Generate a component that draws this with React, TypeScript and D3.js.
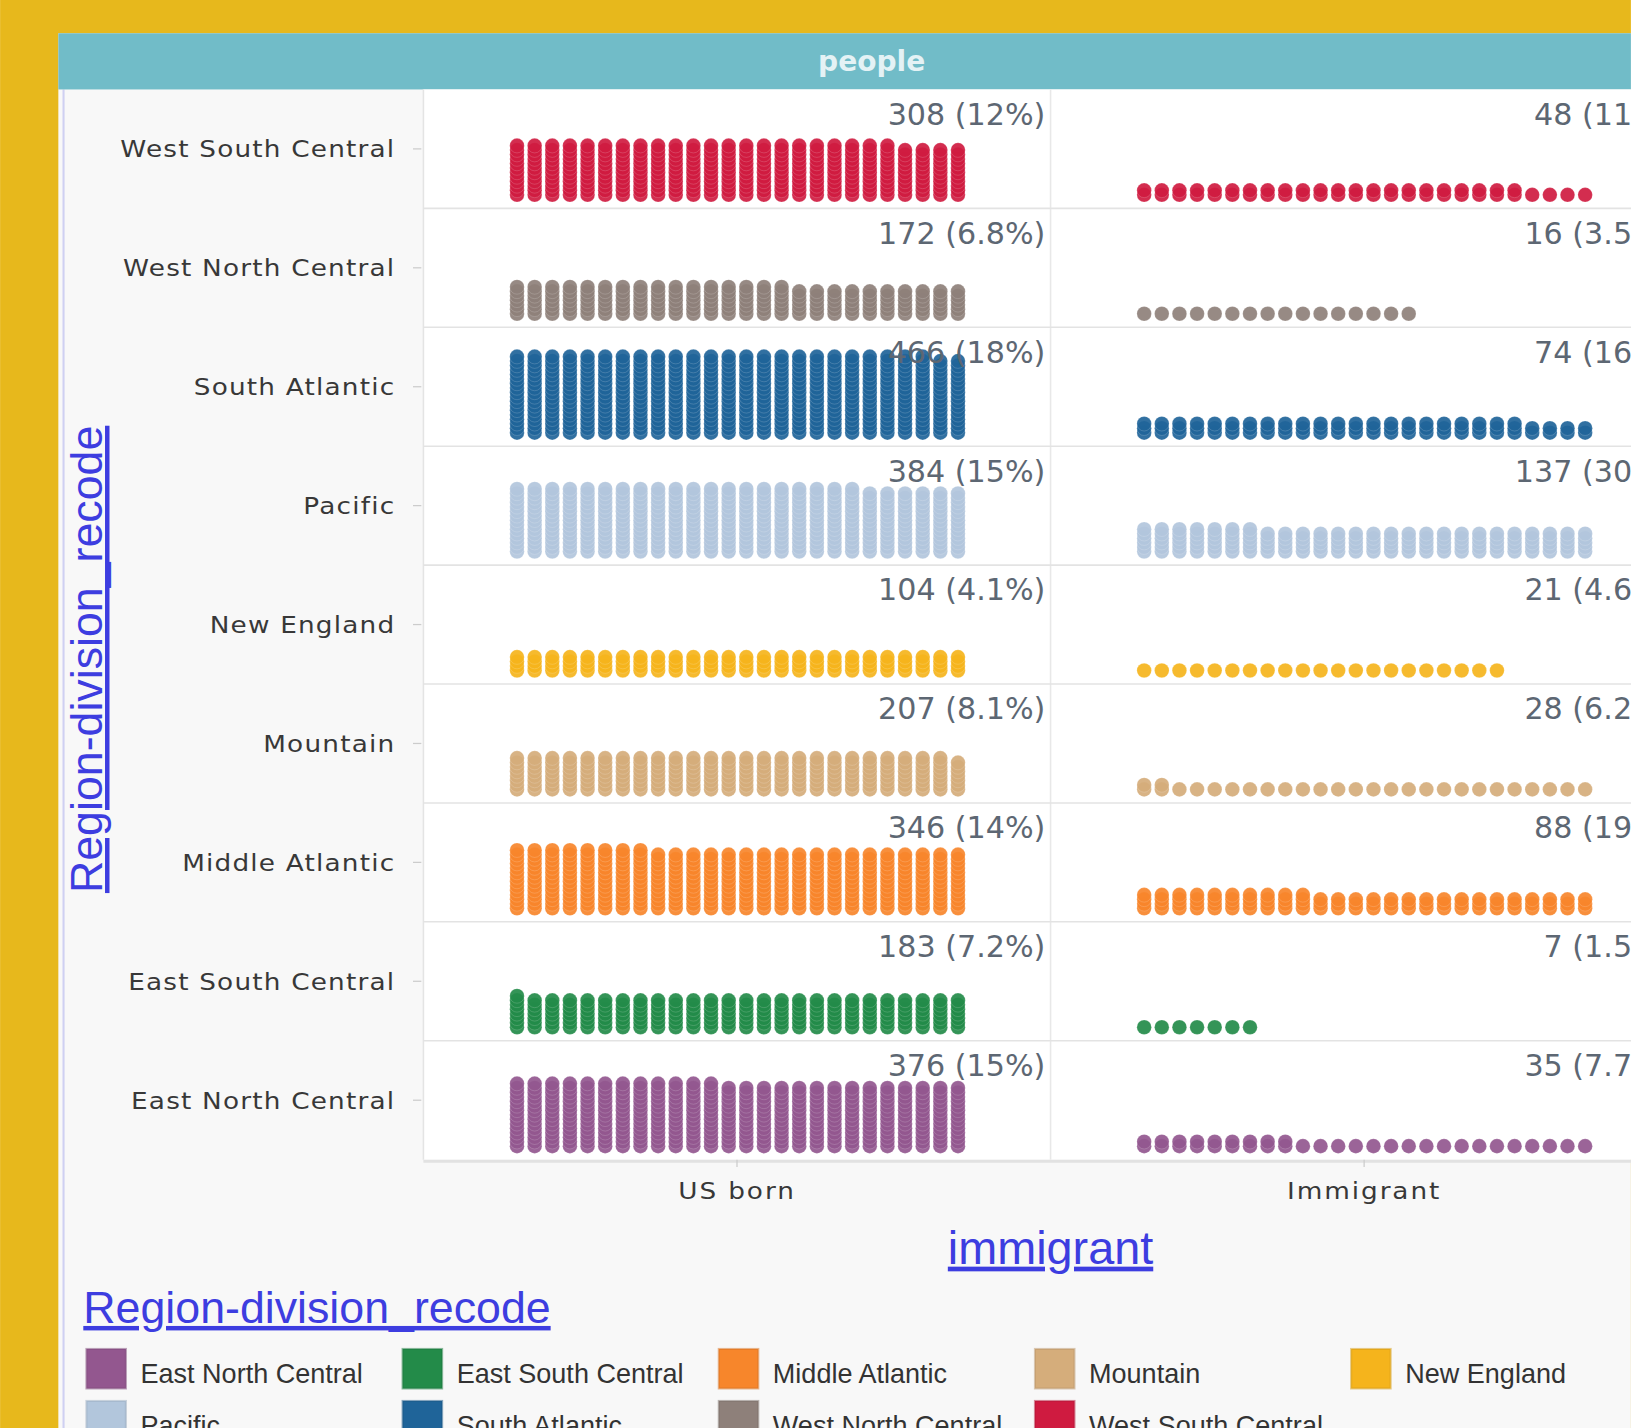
import React from "react";
import * as d3 from "d3";

// ---- data ----
const REGIONS = [
  "West South Central",
  "West North Central",
  "South Atlantic",
  "Pacific",
  "New England",
  "Mountain",
  "Middle Atlantic",
  "East South Central",
  "East North Central",
];
const GROUPS = ["US born", "Immigrant"];
const US_BORN = [308, 172, 466, 384, 104, 207, 346, 183, 376];
const IMMIGRANT = [48, 16, 74, 137, 21, 28, 88, 7, 35];
const LEGEND_ORDER = [
  "East North Central",
  "East South Central",
  "Middle Atlantic",
  "Mountain",
  "New England",
  "Pacific",
  "South Atlantic",
  "West North Central",
  "West South Central",
];
const LEGEND_COLORS = [
  "#93578f",
  "#238b49",
  "#f7862b",
  "#d5ad7b",
  "#f5b41c",
  "#b2c6dc",
  "#1f6499",
  "#8e807a",
  "#cf1b40",
];
const DOTS_PER_ROW = 26;

// ---- layout (in a 1568 x 1373 view space) ----
const VW = 1568;
const VH = 1373;
const PANEL_X = 56;
const PANEL_Y = 32;
const HEADER_H = 54;
const PLOT_L = 407;
const PLOT_R = 1613;
const PLOT_T = PANEL_Y + HEADER_H;
const PLOT_B = 1115;

const color = d3.scaleOrdinal<string, string>().domain(LEGEND_ORDER).range(LEGEND_COLORS);
const yBand = d3.scaleBand<string>().domain(REGIONS).range([PLOT_T, PLOT_B]).padding(0);
const xFacet = d3.scaleBand<string>().domain(GROUPS).range([PLOT_L, PLOT_R]).padding(0);
const pct = d3.format(".2p");

const SERIES = [US_BORN, IMMIGRANT];

const labelFont = "'DejaVu Sans', Verdana, sans-serif";
const linkFont = "'Liberation Sans', Arial, sans-serif";

export default function App() {
  const fw = xFacet.bandwidth();
  const bh = yBand.bandwidth();
  const stackY = d3.scaleLinear().domain([0, 1]).range([0, -4.3]);
  const R = 7;

  return (
    <svg
      width={1631}
      height={1428}
      viewBox={`0 0 ${VW} ${VH}`}
      style={{ position: "absolute", left: 0, top: 0, display: "block" }}
    >
      <rect x={0} y={0} width={VW} height={VH} fill="#e7b81c" />
      <rect x={PANEL_X} y={PANEL_Y} width={VW - PANEL_X} height={VH - PANEL_Y} fill="#f8f8f8" />
      <line x1={61} x2={61} y1={PLOT_T} y2={VH} stroke="#cfd0f2" strokeWidth={2} />
      {/* header */}
      <rect x={PANEL_X} y={PANEL_Y} width={VW - PANEL_X} height={HEADER_H} fill="#71bcc8" />
      <text
        x={838}
        y={PANEL_Y + HEADER_H / 2 + 9}
        textAnchor="middle"
        fill="#eef7f9"
        fontFamily={labelFont}
        fontSize={27}
        fontWeight={600}
        opacity={0.92}
      >
        people
      </text>

      {/* plot background */}
      <rect x={PLOT_L} y={PLOT_T} width={PLOT_R - PLOT_L} height={PLOT_B - PLOT_T} fill="#ffffff" />
      <line x1={PLOT_L} x2={PLOT_R} y1={PLOT_B + 1.5} y2={PLOT_B + 1.5} stroke="#e2e2e2" strokeWidth={3} />
      <line x1={PLOT_L} x2={PLOT_L} y1={PLOT_T} y2={PLOT_B} stroke="#e4e4e4" strokeWidth={1.5} />
      {GROUPS.slice(1).map((g) => (
        <line key={g} x1={xFacet(g)!} x2={xFacet(g)!} y1={PLOT_T} y2={PLOT_B} stroke="#e8e8e8" strokeWidth={1.5} />
      ))}
      {REGIONS.slice(1).map((r) => (
        <line key={r} x1={PLOT_L} x2={PLOT_R} y1={yBand(r)!} y2={yBand(r)!} stroke="#e3e3e3" strokeWidth={1.5} />
      ))}

      {/* y axis */}
      {REGIONS.map((r) => {
        const cy = yBand(r)! + bh / 2;
        return (
          <g key={r}>
            <line x1={397} x2={405} y1={cy} y2={cy} stroke="#cccccc" strokeWidth={1.2} />
            <text
              transform={`translate(380, ${cy + 8}) scale(1.15, 1)`}
              textAnchor="end"
              fill="#383838"
              fontFamily={labelFont}
              fontSize={22}
              letterSpacing={1}
            >
              {r}
            </text>
          </g>
        );
      })}

      {/* x axis */}
      {GROUPS.map((g) => {
        const cx = xFacet(g)! + fw / 2;
        return (
          <g key={g}>
            <line x1={cx} x2={cx} y1={PLOT_B} y2={PLOT_B + 7} stroke="#cccccc" strokeWidth={1.2} />
            <text
              transform={`translate(${cx}, 1153) scale(1.15, 1)`}
              textAnchor="middle"
              fill="#383838"
              fontFamily={labelFont}
              fontSize={22}
              letterSpacing={1.6}
            >
              {g}
            </text>
          </g>
        );
      })}

      {/* dots */}
      {GROUPS.map((g, gi) => {
        const fx = xFacet(g)!;
        const colX = d3.scaleLinear().domain([0, DOTS_PER_ROW - 1]).range([fx + 90, fx + 514]);
        const total = d3.sum(SERIES[gi]);
        return (
          <g key={g}>
            {REGIONS.map((r, ri) => {
              const n = SERIES[gi][ri];
              const base = yBand(r)! + bh - 13;
              const c = color(r);
              const dots = d3.range(n).map((i) => ({
                x: colX(i % DOTS_PER_ROW),
                y: base + stackY(Math.floor(i / DOTS_PER_ROW)),
              }));
              return (
                <g key={r}>
                  {dots.map((d, i) => (
                    <circle
                      key={i}
                      cx={d.x}
                      cy={d.y}
                      r={R}
                      fill={c}
                      fillOpacity={0.92}
                      stroke="#ffffff"
                      strokeOpacity={0.2}
                      strokeWidth={0.8}
                    />
                  ))}
                </g>
              );
            })}
            {REGIONS.map((r, ri) => {
              const n = SERIES[gi][ri];
              return (
                <text
                  key={"l" + r}
                  x={fx + fw - 5}
                  y={yBand(r)! + 34}
                  textAnchor="end"
                  fill="#5d6773"
                  fontFamily={labelFont}
                  fontSize={29}
                >
                  {`${n} (${pct(n / total)})`}
                </text>
              );
            })}
          </g>
        );
      })}

      {/* axis titles */}
      <text
        x={1010}
        y={1215}
        textAnchor="middle"
        fill="#3d3de0"
        fontFamily={linkFont}
        fontSize={45}
        textDecoration="underline"
      >
        immigrant
      </text>
      <text
        transform="translate(98, 634) rotate(-90)"
        textAnchor="middle"
        fill="#3d3de0"
        fontFamily={linkFont}
        fontSize={43}
        textDecoration="underline"
      >
        Region-division_recode
      </text>

      {/* legend */}
      <text x={80} y={1272} fill="#3d3de0" fontFamily={linkFont} fontSize={43} textDecoration="underline">
        Region-division_recode
      </text>
      {LEGEND_ORDER.map((name, i) => {
        const col = i % 5;
        const row = Math.floor(i / 5);
        const x = 83 + col * 304;
        const y = 1297 + row * 50;
        return (
          <g key={name}>
            <rect
              x={x}
              y={y}
              width={38}
              height={38}
              fill={color(name)}
              stroke={d3.color(color(name))!.darker(0.4).formatHex()}
              strokeOpacity={0.5}
              strokeWidth={2}
            />
            <text x={x + 52} y={y + 33} fill="#333333" fontFamily={linkFont} fontSize={26}>
              {name}
            </text>
          </g>
        );
      })}
    </svg>
  );
}
